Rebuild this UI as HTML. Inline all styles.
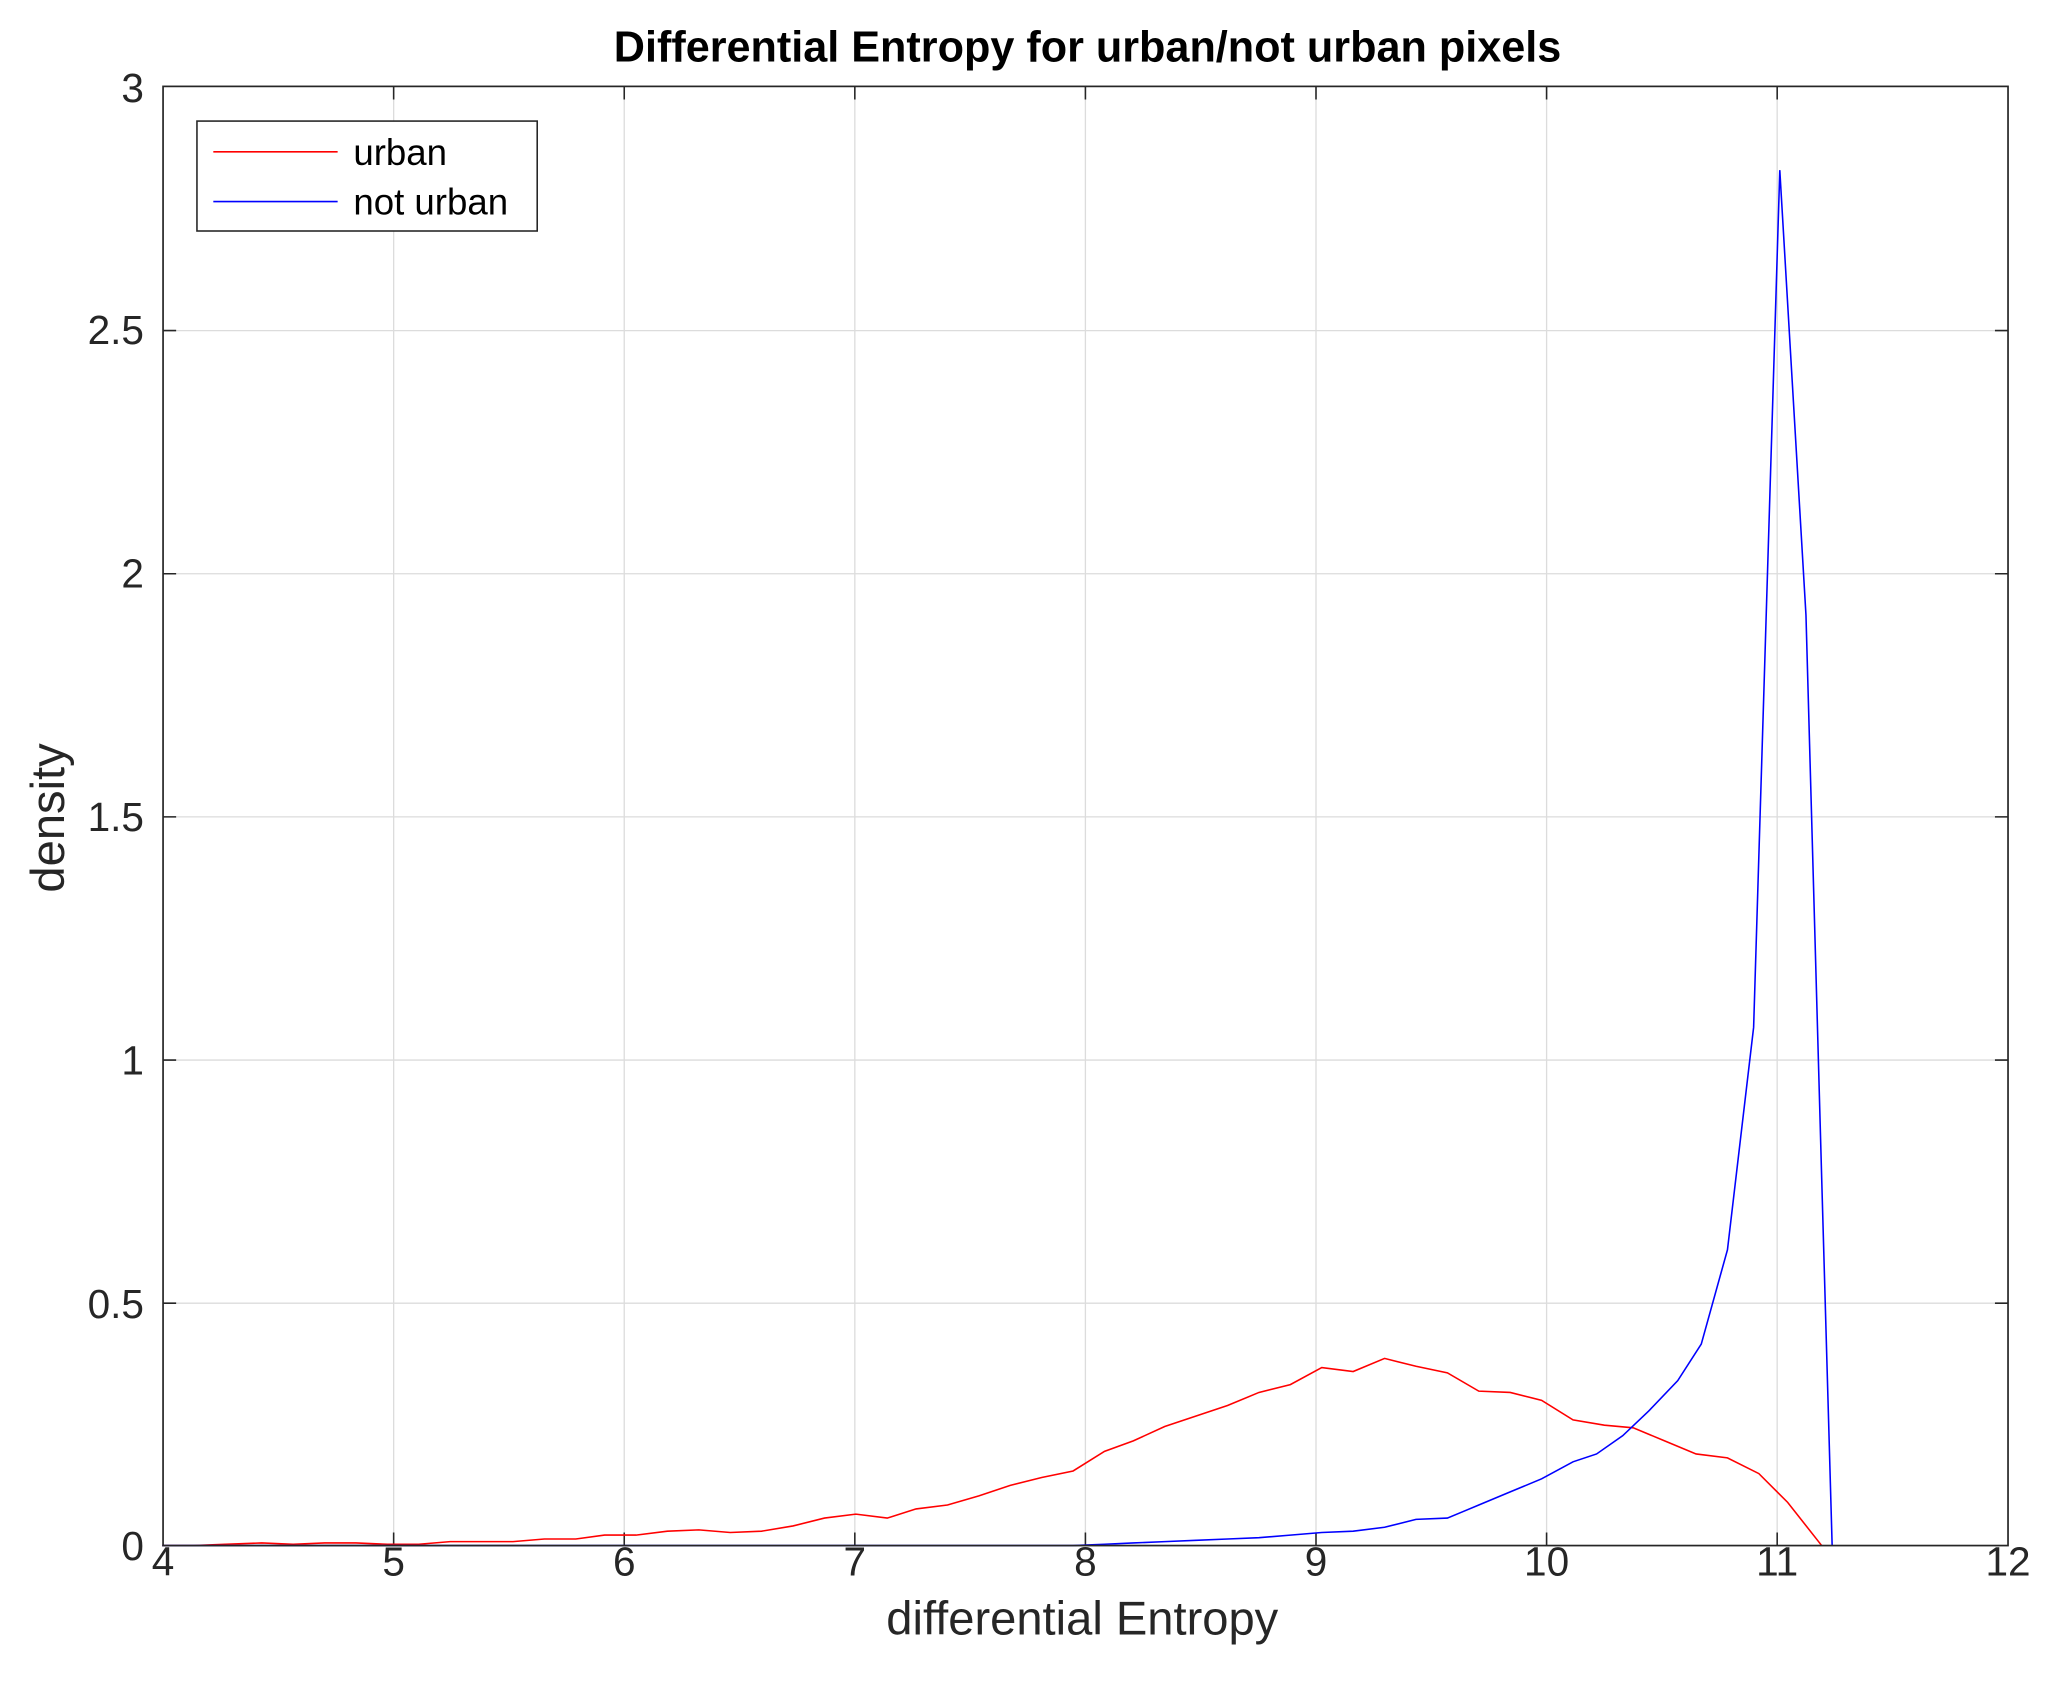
<!DOCTYPE html>
<html><head><meta charset="utf-8"><style>html,body{margin:0;padding:0;background:#fff}svg{display:block}</style></head>
<body>
<svg width="2052" height="1697" viewBox="0 0 1568 1296.7" xmlns="http://www.w3.org/2000/svg" font-family="Liberation Sans, sans-serif">
<rect width="1568" height="1297" fill="#fff"/>
<g stroke="#dcdcdc" stroke-width="1">
<line x1="300.8" y1="66" x2="300.8" y2="1181"/><line x1="477" y1="66" x2="477" y2="1181"/><line x1="653.2" y1="66" x2="653.2" y2="1181"/><line x1="829.4" y1="66" x2="829.4" y2="1181"/><line x1="1005.6" y1="66" x2="1005.6" y2="1181"/><line x1="1181.8" y1="66" x2="1181.8" y2="1181"/><line x1="1358" y1="66" x2="1358" y2="1181"/>
<line x1="124.6" y1="995.8" x2="1534.4" y2="995.8"/><line x1="124.6" y1="810" x2="1534.4" y2="810"/><line x1="124.6" y1="624.2" x2="1534.4" y2="624.2"/><line x1="124.6" y1="438.4" x2="1534.4" y2="438.4"/><line x1="124.6" y1="252.6" x2="1534.4" y2="252.6"/>
</g>
<g stroke="#262626" stroke-width="1.2">
<path d="M300.8 1181v-10M477 1181v-10M653.2 1181v-10M829.4 1181v-10M1005.6 1181v-10M1181.8 1181v-10M1358 1181v-10M300.8 66v10M477 66v10M653.2 66v10M829.4 66v10M1005.6 66v10M1181.8 66v10M1358 66v10"/>
<path d="M124.6 995.8h10M124.6 810h10M124.6 624.2h10M124.6 438.4h10M124.6 252.6h10M1534.4 995.8h-10M1534.4 810h-10M1534.4 624.2h-10M1534.4 438.4h-10M1534.4 252.6h-10"/>
</g>
<polyline fill="none" stroke="#ff0000" stroke-width="1.2" points="124,1181 148,1181 172,1180 200,1179 224,1180 248,1179 272,1179 296,1180 320,1180 344,1178 368,1178 392,1178 416,1176 440,1176 462,1173 486,1173 510,1170 534,1169 558,1171 582,1170 606,1166 630,1160 654,1157 678,1160 700,1153 724,1150 748,1143 772,1135 796,1129 820,1124 844,1109 866,1101 890,1090 914,1082 938,1074 962,1064 986,1058 1010,1045 1034,1048 1058,1038 1082,1044 1106,1049 1130,1063 1154,1064 1178,1070 1202,1085 1226,1089 1248,1091 1272,1101 1296,1111 1320,1114 1344,1126 1366,1148 1392,1181"/>
<polyline fill="none" stroke="#0000ff" stroke-width="1.2" points="124,1181 820,1181 844,1180 866,1179 890,1178 914,1177 938,1176 962,1175 986,1173 1010,1171 1034,1170 1058,1167 1082,1161 1106,1160 1118,1155 1130,1150 1154,1140 1178,1130 1202,1117 1220,1111 1240,1097 1260,1078 1282,1055 1300,1027 1320,955 1340,785 1360,130 1380,470 1392,900 1400,1181"/>
<rect x="124.6" y="66" width="1409.8" height="1115" fill="none" stroke="#262626" stroke-width="1.3"/>
<g font-size="31" fill="#262626" text-anchor="middle">
<text x="124.6" y="1204">4</text><text x="300.8" y="1204">5</text><text x="477" y="1204">6</text><text x="653.2" y="1204">7</text><text x="829.4" y="1204">8</text><text x="1005.6" y="1204">9</text><text x="1181.8" y="1204">10</text><text x="1358" y="1204">11</text><text x="1534.4" y="1204">12</text>
</g>
<g font-size="31" fill="#262626" text-anchor="end">
<text x="110" y="1192">0</text><text x="110" y="1007">0.5</text><text x="110" y="821">1</text><text x="110" y="635">1.5</text><text x="110" y="449">2</text><text x="110" y="263">2.5</text><text x="110" y="78">3</text>
</g>
<text x="827" y="1249" font-size="36" fill="#262626" text-anchor="middle">differential Entropy</text>
<text x="0" y="0" font-size="36" fill="#262626" text-anchor="middle" transform="translate(49,625) rotate(-90)">density</text>
<text x="831" y="47" font-size="33" font-weight="bold" fill="#000" text-anchor="middle">Differential Entropy for urban/not urban pixels</text>
<rect x="150.5" y="92.5" width="260" height="84" fill="#fff" stroke="#262626" stroke-width="1.2"/>
<line x1="163" y1="116" x2="258" y2="116" stroke="#ff0000" stroke-width="1.3"/>
<line x1="163" y1="154" x2="258" y2="154" stroke="#0000ff" stroke-width="1.3"/>
<text x="270" y="126" font-size="28" fill="#000">urban</text>
<text x="270" y="164" font-size="28" fill="#000">not urban</text>
</svg>
</body></html>
